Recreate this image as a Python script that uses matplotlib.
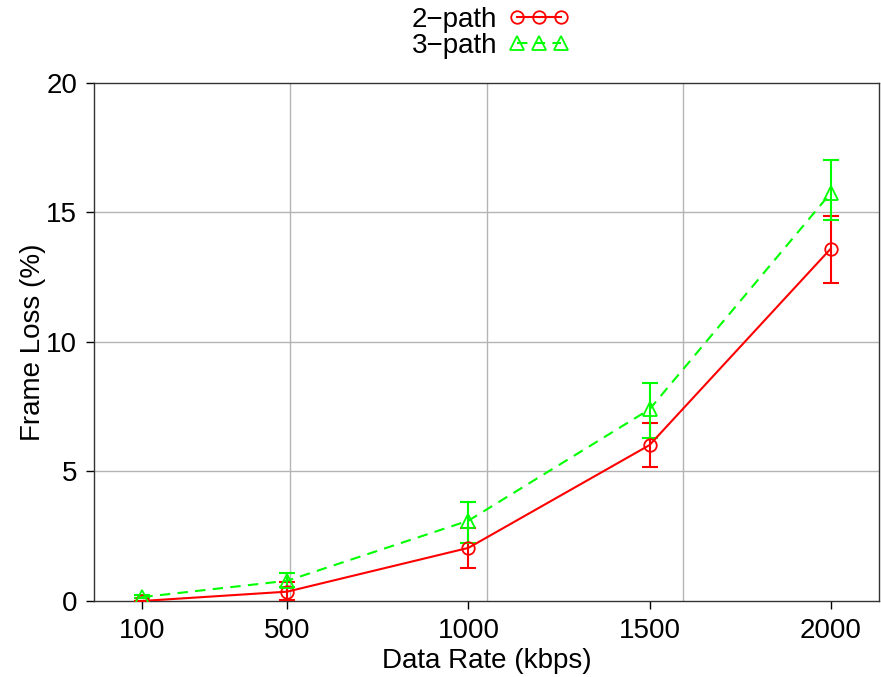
import numpy as np
import matplotlib
matplotlib.use("Agg")
import matplotlib.pyplot as plt

plt.rcParams['font.family'] = ['Liberation Sans', 'DejaVu Sans']

rates = [100, 500, 1000, 1500, 2000]
tick_labels = ["100", "500", "1000", "1500", "2000"]

# frame loss (%) and error bar ends
loss_2path = [0.0, 0.36, 2.05, 6.02, 13.6]
low_2path = [0.0, 0.04, 1.29, 5.16, 12.29]
high_2path = [0.0, 0.75, 2.82, 6.86, 14.86]

loss_3path = [0.15, 0.78, 3.1, 7.4, 15.75]
low_3path = [0.1, 0.55, 2.22, 6.31, 14.7]
high_3path = [0.22, 1.07, 3.83, 8.42, 17.03]

red = "#ff0000"
green = "#00ff00"

fig = plt.figure(figsize=(8.81, 6.77), dpi=100)
ax = fig.add_axes([0.1067, 0.1123, 0.8913, 0.7651])

x0, x1 = -33.3, 2134
ax.set_xlim(x0, x1)
ax.set_ylim(0, 20)

# grid as drawn in the original: x grid splits the range in quarters
for gx in np.linspace(x0, x1, 5)[1:-1]:
    ax.axvline(gx, color="#b4b4b4", lw=1.0, zorder=0)
for gy in [5, 10, 15]:
    ax.axhline(gy, color="#b4b4b4", lw=1.0, zorder=0)

ax.errorbar(rates, loss_2path,
            yerr=[np.array(loss_2path) - np.array(low_2path), np.array(high_2path) - np.array(loss_2path)],
            fmt="none", ecolor=red, elinewidth=1.5, capsize=6, capthick=1.5, zorder=3)
ax.plot(rates, loss_2path, color=red, lw=1.5, marker="o", ms=9, mfc="none",
        mec=red, mew=1.3, label="2\u2212path", zorder=4)

ax.errorbar(rates, loss_3path,
            yerr=[np.array(loss_3path) - np.array(low_3path), np.array(high_3path) - np.array(loss_3path)],
            fmt="none", ecolor=green, elinewidth=1.5, capsize=6, capthick=1.5, zorder=3)
ax.plot(rates, loss_3path, color=green, lw=1.5, ls=(0, (5, 3.5)), marker="^", ms=10,
        mfc="none", mec=green, mew=1.3, label="3\u2212path", zorder=4)

ax.set_xticks(rates)
ax.set_xticklabels(tick_labels)
ax.set_yticks([0, 5, 10, 15, 20])
ax.tick_params(direction="out", length=6, width=1, labelsize=20, pad=6)
for s in ax.spines.values():
    s.set_linewidth(1.0)
    s.set_color("#333333")

ax.set_xlabel("Data Rate (kbps)", fontsize=20, labelpad=3)
ax.set_ylabel("Frame Loss (%)", fontsize=20, labelpad=0)

fig.legend(loc="upper center", bbox_to_anchor=(0.557, 1.006), frameon=False, fontsize=20,
           markerfirst=False, numpoints=3, handlelength=2.2, handletextpad=0.4,
           labelspacing=0.0, borderaxespad=0.0)

fig.savefig("out.png", dpi=100)
